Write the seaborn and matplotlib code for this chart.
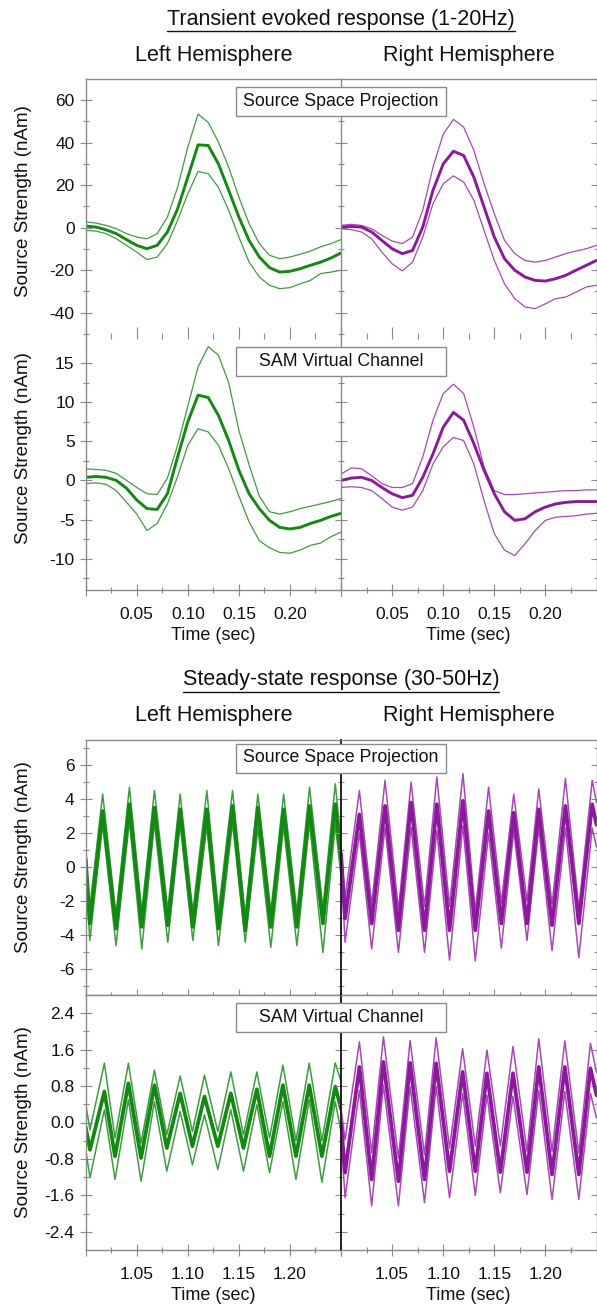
import numpy as np
import pandas as pd
import matplotlib
matplotlib.use("Agg")
import matplotlib.pyplot as plt
import seaborn as sns
from matplotlib.patches import Rectangle
from matplotlib.lines import Line2D

# ---------------- data ----------------
# Transient evoked response (time in s)
t_tr = [0.00, 0.01, 0.02, 0.03, 0.04, 0.05, 0.06, 0.07, 0.08, 0.09, 0.10, 0.11, 0.12,
        0.13, 0.14, 0.15, 0.16, 0.17, 0.18, 0.19, 0.20, 0.21, 0.22, 0.23, 0.24, 0.25]

ssp_left_mean = [0.8, 0.3, -1.0, -2.8, -5.6, -8.3, -9.9, -8.3, -2.0, 8.9, 23.8, 39.0, 38.7,
                 30.0, 17.6, 5.0, -6.0, -13.8, -18.8, -20.9, -20.5, -19.3, -17.7, -16.2, -14.3, -11.9]
ssp_left_upper = [2.7, 2.2, 1.1, -0.5, -2.8, -4.4, -5.2, -2.8, 5.0, 19.0, 38.0, 53.5, 49.5,
                  40.3, 28.5, 14.4, 1.9, -7.5, -13.0, -14.6, -13.8, -12.5, -11.0, -9.0, -7.5, -5.6]
ssp_left_lower = [-1.2, -1.6, -2.8, -5.2, -8.3, -11.5, -15.0, -13.8, -7.5, 3.5, 16.0, 26.5, 25.4,
                  19.0, 8.2, -4.4, -16.2, -23.2, -27.1, -28.7, -28.2, -26.4, -24.8, -21.6, -20.9, -20.0]

ssp_right_mean = [0.3, 0.6, 0.3, -2.0, -6.0, -9.9, -12.2, -10.7, 0.3, 17.6, 30.0, 36.0, 34.0,
                  23.8, 9.7, -4.4, -14.6, -20.0, -23.2, -24.8, -25.1, -24.0, -22.4, -20.0, -17.7, -15.4]
ssp_right_upper = [1.1, 1.6, 1.1, -0.5, -3.6, -6.3, -7.5, -4.4, 8.2, 28.5, 44.0, 51.0, 47.4,
                   36.4, 20.7, 6.6, -6.0, -12.2, -15.4, -16.2, -15.4, -13.8, -12.2, -11.0, -9.9, -8.3]
ssp_right_lower = [-0.5, -0.9, -2.0, -5.2, -11.5, -17.0, -20.3, -16.2, -4.4, 11.3, 20.7, 24.4, 21.5,
                   12.9, -1.3, -15.4, -26.4, -33.4, -37.3, -38.1, -35.8, -33.4, -32.6, -30.3, -27.9, -27.1]

sam_left_mean = [0.4, 0.5, 0.4, 0.0, -1.0, -2.5, -3.6, -3.7, -1.7, 3.0, 7.5, 10.9, 10.6,
                 8.3, 5.1, 1.3, -1.7, -3.6, -5.1, -6.0, -6.2, -6.0, -5.5, -5.1, -4.6, -4.2]
sam_left_upper = [1.5, 1.4, 1.3, 0.9, 0.0, -0.9, -1.7, -1.8, 0.3, 4.5, 9.5, 14.5, 17.1,
                  16.0, 12.5, 6.4, 2.0, -2.0, -4.0, -4.3, -4.0, -3.6, -3.3, -3.0, -2.7, -2.3]
sam_left_lower = [-0.4, -0.3, -0.5, -1.3, -2.8, -4.3, -6.4, -5.5, -3.0, 0.5, 4.5, 6.6, 6.2,
                  4.5, 1.5, -2.0, -5.3, -7.7, -8.6, -9.2, -9.3, -8.9, -8.3, -8.0, -7.2, -6.6]

sam_right_mean = [0.0, 0.3, 0.4, 0.0, -0.9, -1.7, -2.2, -1.9, 0.4, 3.4, 6.8, 8.7, 7.7,
                  4.7, 1.3, -1.7, -4.0, -5.1, -4.9, -4.0, -3.4, -3.0, -2.8, -2.7, -2.7, -2.7]
sam_right_upper = [0.8, 1.6, 1.5, 0.6, -0.4, -0.9, -0.9, -0.4, 3.0, 7.7, 11.1, 12.3, 11.1,
                   6.8, 1.7, -1.3, -1.8, -1.8, -1.7, -1.6, -1.5, -1.4, -1.3, -1.3, -1.2, -1.2]
sam_right_lower = [-0.9, -0.8, -0.9, -1.3, -2.3, -3.4, -3.8, -3.4, -1.3, 2.1, 4.3, 5.5, 5.1,
                   2.1, -2.6, -6.8, -8.9, -9.6, -8.1, -6.4, -5.1, -4.7, -4.6, -4.5, -4.3, -4.2]

# Steady-state response: start, alternating trough/peak samples, end
ss_ssp_left_t = [1.000, 1.004, 1.0166, 1.0297, 1.0428, 1.0549, 1.0673, 1.0804, 1.0925, 1.1049, 1.1186,
                 1.1300, 1.1438, 1.1562, 1.1686, 1.1813, 1.1938, 1.2068, 1.2192, 1.2323, 1.2444, 1.250]
ss_ssp_left_mean = [0.5, -3.3, 3.3, -3.6, 3.7, -3.5, 3.5, -3.4, 3.4, -3.5, 3.4,
                    -3.6, 3.6, -3.7, 3.5, -3.5, 3.4, -3.5, 3.6, -3.3, 3.7, 0.5]
ss_ssp_left_upper = [1.0, -2.4, 4.3, -2.8, 4.7, -2.6, 4.5, -2.5, 4.3, -2.6, 4.5,
                     -2.6, 4.5, -2.8, 4.3, -2.6, 4.3, -2.6, 4.7, -2.4, 4.9, 1.5]
ss_ssp_left_lower = [0.0, -4.3, 2.5, -4.6, 2.7, -4.8, 2.6, -4.4, 2.5, -4.3, 2.4,
                     -4.6, 2.6, -4.4, 2.3, -4.7, 2.4, -4.6, 2.6, -5.0, 2.5, -0.5]

ss_ssp_right_t = [1.000, 1.004, 1.0180, 1.0300, 1.0431, 1.0562, 1.0686, 1.0817, 1.0938, 1.1062, 1.1193,
                  1.1314, 1.1444, 1.1569, 1.1690, 1.1820, 1.1935, 1.2065, 1.2196, 1.2327, 1.2458, 1.250]
ss_ssp_right_mean = [0.8, -3.0, 3.1, -3.3, 3.6, -3.7, 3.8, -3.7, 3.7, -3.7, 3.9,
                     -3.7, 3.3, -3.3, 3.2, -3.3, 3.4, -3.4, 3.6, -3.3, 3.7, 2.5]
ss_ssp_right_upper = [1.2, -1.8, 4.5, -2.2, 5.1, -2.5, 5.0, -2.3, 5.3, -2.3, 5.5,
                      -2.6, 4.7, -2.1, 4.3, -2.0, 4.6, -2.2, 5.2, -2.4, 5.1, 3.8]
ss_ssp_right_lower = [0.3, -4.4, 2.0, -4.8, 2.35, -5.0, 2.35, -5.0, 2.15, -5.45, 2.45,
                      -5.5, 2.0, -4.75, 2.15, -4.3, 2.3, -4.9, 2.3, -5.3, 2.3, 1.2]

ss_sam_left_t = [1.000, 1.0042, 1.0183, 1.0287, 1.0418, 1.0542, 1.0673, 1.0794, 1.0925, 1.1045, 1.1163,
                 1.1294, 1.1421, 1.1545, 1.1676, 1.1800, 1.1931, 1.2059, 1.2189, 1.2313, 1.2444, 1.250]
ss_sam_left_mean = [-0.1, -0.6, 0.68, -0.74, 0.86, -0.78, 0.82, -0.56, 0.64, -0.52, 0.57,
                    -0.52, 0.64, -0.56, 0.73, -0.74, 0.82, -0.74, 0.82, -0.74, 0.79, 0.3]
ss_sam_left_upper = [0.4, -0.16, 1.30, -0.34, 1.30, -0.45, 1.15, -0.27, 1.02, -0.20, 1.04,
                     -0.20, 1.11, -0.27, 1.11, -0.34, 1.26, -0.40, 1.30, -0.40, 1.31, 0.9]
ss_sam_left_lower = [-0.6, -1.21, 0.28, -1.25, 0.50, -1.29, 0.46, -1.07, 0.24, -0.93, 0.17,
                     -1.03, 0.28, -1.07, 0.39, -1.10, 0.46, -1.25, 0.50, -1.31, 0.46, -0.2]

ss_sam_right_t = [1.000, 1.004, 1.0180, 1.0300, 1.0415, 1.0562, 1.0676, 1.0817, 1.0931, 1.1062, 1.1190,
                  1.1314, 1.1428, 1.1559, 1.1683, 1.1820, 1.1935, 1.2065, 1.2190, 1.2327, 1.2441, 1.250]
ss_sam_right_mean = [0.0, -1.10, 1.22, -1.25, 1.33, -1.29, 1.31, -1.25, 1.30, -1.07, 1.11,
                     -1.07, 1.08, -1.09, 1.08, -1.09, 1.22, -1.14, 1.22, -1.14, 1.19, 0.6]
ss_sam_right_upper = [0.3, -0.38, 1.77, -0.67, 1.88, -0.78, 1.80, -0.71, 1.86, -0.56, 1.62,
                      -0.52, 1.59, -0.52, 1.67, -0.63, 1.84, -0.63, 1.79, -0.67, 1.74, 1.1]
ss_sam_right_lower = [-0.3, -1.65, 0.71, -1.83, 0.82, -1.83, 0.79, -1.76, 0.79, -1.65, 0.64,
                      -1.60, 0.60, -1.54, 0.58, -1.58, 0.70, -1.69, 0.68, -1.69, 0.64, 0.1]

tr_xticks = [0.00, 0.05, 0.10, 0.15, 0.20, 0.25]
tr_xlabels = ["", "0.05", "0.10", "0.15", "0.20", ""]
ss_xticks = [1.00, 1.05, 1.10, 1.15, 1.20, 1.25]
ss_xlabels = ["", "1.05", "1.10", "1.15", "1.20", ""]

# ---------------- style ----------------
sns.set_theme(style="ticks")
plt.rcParams["font.family"] = ["Liberation Sans", "DejaVu Sans"]
plt.rcParams["text.color"] = "#111111"

GREEN_M, GREEN_T = "#138813", "#3f9c3f"
PURP_M, PURP_T = "#8a1a9a", "#a848b8"
FRAME = "#8a8a8a"

W, H = 597, 1308
fig = plt.figure(figsize=(W / 100, H / 100), dpi=100)
fig.patch.set_facecolor("white")


def px_rect(x0, y0, x1, y1):
    return [x0 / W, 1 - y1 / H, (x1 - x0) / W, (y1 - y0) / H]


XL, XM, XR = 85.7, 341.0, 596.5
rows = [(79.0, 343.5), (343.5, 590.0), (739.5, 995.0), (995.0, 1250.0)]


def draw_series(ax, t, mean, upper, lower, cm, ct, steady):
    lw_t, lw_m = (1.1, 2.7) if steady else (0.9, 2.1)
    for v in (upper, lower):
        sns.lineplot(x=np.array(t), y=np.array(v), ax=ax, color=ct, linewidth=lw_t,
                     estimator=None, sort=False, solid_joinstyle="round")
    sns.lineplot(x=np.array(t), y=np.array(mean), ax=ax, color=cm, linewidth=lw_m,
                 estimator=None, sort=False, solid_joinstyle="round")


def style(ax, xlim, xticks, xlabels, xminor, ylim, yticks, yminor, yfmt,
          left_col, row_kind, show_xlabels, ylab_y=None, steady=False):
    ax.set_facecolor("white")
    ax.set_xlim(*xlim)
    ax.set_ylim(*ylim)
    ax.set_xticks(xticks)
    ax.set_xticks(xminor, minor=True)
    ax.set_yticks(yticks)
    ax.set_yticks(yminor, minor=True)
    if show_xlabels:
        ax.set_xticklabels(xlabels)
    else:
        ax.set_xticklabels([""] * len(xticks))
    if left_col:
        ax.set_yticklabels([yfmt.format(v) for v in yticks])
    else:
        ax.set_yticklabels([""] * len(yticks))
    for s in ax.spines.values():
        s.set_color(FRAME)
        s.set_linewidth(1.0)
    ax.tick_params(which="major", direction="inout", length=8, width=0.8, color=FRAME,
                   labelsize=12.5, labelcolor="#111111", pad=4)
    ax.tick_params(which="minor", direction="inout", length=5, width=0.8, color=FRAME)
    ax.tick_params(axis="x", which="major", pad=8)
    ax.tick_params(top=False, which="both")
    if left_col:
        ax.spines["right"].set_visible(False)
        ax.tick_params(right=False, which="both")
    else:
        ax.tick_params(right=True, left=True, which="both")
        if steady:
            ax.spines["left"].set_color("#111111")
            ax.spines["left"].set_linewidth(1.3)
    if row_kind == "top_tr":
        ax.spines["bottom"].set_visible(False)
        ax.spines["bottom"].set_position(("outward", -3))
        ax.tick_params(axis="x", which="major", direction="in", length=9)
        ax.tick_params(axis="x", which="minor", direction="in", length=4.5)
    if row_kind == "bot_tr":
        ax.spines["top"].set_visible(False)
    if left_col:
        ax.set_ylabel("Source Strength (nAm)", fontsize=13.5, color="#111111")
        ax.yaxis.set_label_coords((32 - 85.7) / 255.3, ylab_y)
    else:
        ax.set_ylabel("")
    if show_xlabels:
        ax.set_xlabel("Time (sec)", fontsize=13, color="#111111", labelpad=4)
    else:
        ax.set_xlabel("")


tr_minor = [0.025, 0.075, 0.125, 0.175, 0.225]
ss_minor = [1.025, 1.075, 1.125, 1.175, 1.225]

panels = [
    (0, "tr", (t_tr, ssp_left_mean, ssp_left_upper, ssp_left_lower),
     (t_tr, ssp_right_mean, ssp_right_upper, ssp_right_lower),
     (-54.5, 70), [-40, -20, 0, 20, 40, 60], [-50, -30, -10, 10, 30, 50], "{:d}", "top_tr", False, 0.539),
    (1, "tr", (t_tr, sam_left_mean, sam_left_upper, sam_left_lower),
     (t_tr, sam_right_mean, sam_right_upper, sam_right_lower),
     (-14, 17.5), [-10, -5, 0, 5, 10, 15], [-12.5, -7.5, -2.5, 2.5, 7.5, 12.5], "{:d}", "bot_tr", True, 0.576),
    (2, "ss", (ss_ssp_left_t, ss_ssp_left_mean, ss_ssp_left_upper, ss_ssp_left_lower),
     (ss_ssp_right_t, ss_ssp_right_mean, ss_ssp_right_upper, ss_ssp_right_lower),
     (-7.5, 7.5), [-6, -4, -2, 0, 2, 4, 6], [-7, -5, -3, -1, 1, 3, 5, 7], "{:d}", "top_ss", False, 0.538),
    (3, "ss", (ss_sam_left_t, ss_sam_left_mean, ss_sam_left_upper, ss_sam_left_lower),
     (ss_sam_right_t, ss_sam_right_mean, ss_sam_right_upper, ss_sam_right_lower),
     (-2.8, 2.8), [-2.4, -1.6, -0.8, 0.0, 0.8, 1.6, 2.4], [-2.0, -1.2, -0.4, 0.4, 1.2, 2.0], "{:.1f}",
     "bot_ss", True, 0.503),
]

for row, kind, dl, dr, ylim, yt, ym, fmt, rkind, xlab, ylab_y in panels:
    y0, y1 = rows[row]
    steady = kind == "ss"
    if not steady:
        xlim, xt, xlb, xm = (0.0, 0.25), tr_xticks, tr_xlabels, tr_minor
    else:
        xlim, xt, xlb, xm = (1.0, 1.25), ss_xticks, ss_xlabels, ss_minor
    axL = fig.add_axes(px_rect(XL, y0, XM, y1))
    axR = fig.add_axes(px_rect(XM, y0, XR, y1))
    draw_series(axL, *dl, GREEN_M, GREEN_T, steady)
    draw_series(axR, *dr, PURP_M, PURP_T, steady)
    yt_vals = [int(v) for v in yt] if fmt == "{:d}" else yt
    style(axL, xlim, xt, xlb, xm, ylim, yt_vals, ym, fmt, True, rkind, xlab, ylab_y, steady)
    style(axR, xlim, xt, xlb, xm, ylim, yt_vals, ym, fmt, False, rkind, xlab, ylab_y, steady)
    axR.set_zorder(1)

# label boxes
boxes = [("Source Space Projection", 87.0), ("SAM Virtual Channel", 346.5),
         ("Source Space Projection", 743.5), ("SAM Virtual Channel", 1002.5)]
for txt, top in boxes:
    bx0, bw, bh = 236.0, 210.0, 29.0
    rect = Rectangle((bx0 / W, 1 - (top + bh) / H), bw / W, bh / H, transform=fig.transFigure,
                     facecolor="white", edgecolor=FRAME, linewidth=1.0, zorder=20)
    fig.add_artist(rect)
    fig.text((bx0 + bw / 2) / W, 1 - (top + bh / 2) / H, txt, ha="center", va="center",
             fontsize=12.8, color="#111111", zorder=21)

# section titles and hemisphere headers
titles = []
for txt, yc, yh in [("Transient evoked response (1-20Hz)", 19.0, 55.0),
                    ("Steady-state response (30-50Hz)", 680.0, 716.0)]:
    tt = fig.text(341 / W, 1 - yc / H, txt, ha="center", va="center", fontsize=15.5, color="#111111")
    titles.append((tt, yc))
    fig.text((XL + XM) / 2 / W, 1 - yh / H, "Left Hemisphere", ha="center", va="center",
             fontsize=15.5, color="#111111")
    fig.text((XM + XR) / 2 / W, 1 - yh / H, "Right Hemisphere", ha="center", va="center",
             fontsize=15.5, color="#111111")

fig.canvas.draw()
renderer = fig.canvas.get_renderer()
for tt, yc in titles:
    bb = tt.get_window_extent(renderer=renderer).transformed(fig.transFigure.inverted())
    yl = 1 - (yc + 11.5) / H
    fig.add_artist(Line2D([bb.x0, bb.x1], [yl, yl], transform=fig.transFigure,
                          color="#111111", linewidth=1.0))

fig.savefig("out.png", dpi=100, facecolor="white")
